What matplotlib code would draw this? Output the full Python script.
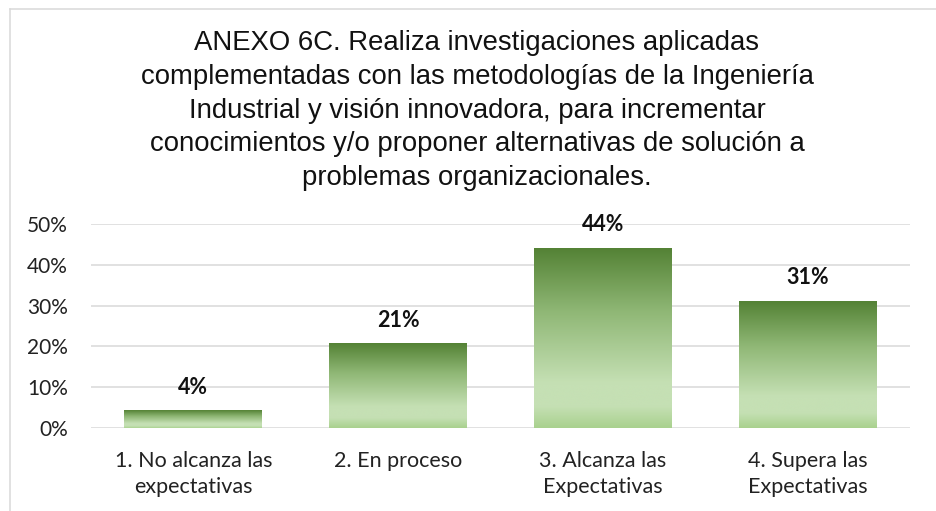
import numpy as np
import matplotlib
matplotlib.use("Agg")
import matplotlib.pyplot as plt
from matplotlib.colors import LinearSegmentedColormap
from matplotlib.lines import Line2D

categories = ["1. No alcanza las\nexpectativas", "2. En proceso",
              "3. Alcanza las\nExpectativas", "4. Supera las\nExpectativas"]
values = [0.042, 0.206, 0.441, 0.311]
yticks = [0.0, 0.1, 0.2, 0.3, 0.4, 0.5]
title = ("ANEXO 6C. Realiza investigaciones aplicadas\n"
         "complementadas con las metodologías de la Ingeniería\n"
         "Industrial y visión innovadora, para incrementar\n"
         "conocimientos y/o proponer alternativas de solución a\n"
         "problemas organizacionales.")

W, H = 936, 511
fig = plt.figure(figsize=(W / 100, H / 100), dpi=100)
fig.patch.set_facecolor("white")

# chart-area frame (left and top edges)
fig.add_artist(Line2D([9.5 / W, 9.5 / W], [0, 1 - 9.5 / H], color="#d9d9d9", lw=1.1,
                      transform=fig.transFigure))
fig.add_artist(Line2D([9.5 / W, 1], [1 - 9.5 / H, 1 - 9.5 / H], color="#d9d9d9", lw=1.1,
                      transform=fig.transFigure))

ax = fig.add_axes([91 / W, 1 - 428 / H, (910 - 91) / W, (428 - 224) / H])

grad = LinearSegmentedColormap.from_list(
    "green", [(0.0, "#a9d18e"), (0.12, "#c5e0b4"), (0.25, "#c5e0b4"),
              (0.65, "#8fb775"), (1.0, "#548235")])
ramp = np.linspace(0, 1, 256).reshape(-1, 1)

x = np.arange(len(categories))
bars = ax.bar(x, values, width=0.673, color="none", edgecolor="none", zorder=3)
for b, v in zip(bars, values):
    x0 = b.get_x()
    ax.imshow(ramp, cmap=grad, origin="lower", aspect="auto", interpolation="bicubic",
              extent=[x0, x0 + b.get_width(), 0, v], zorder=3)
    ax.annotate(f"{v * 100:.0f}%", (b.get_x() + b.get_width() / 2, v),
                xytext=(0, 17), textcoords="offset points",
                ha="center", va="center", fontsize=15.5, fontweight="bold",
                family="Lato", color="#111111", zorder=4)
ax.set_xlim(-0.5, len(categories) - 0.5)
ax.set_ylim(0, 0.5)

ax.set_yticks(yticks)
ax.set_yticklabels([f"{t * 100:.0f}%" for t in yticks], family="Lato", fontsize=15,
                   color="#222222")
ax.set_xticks(x)
ax.set_xticklabels(categories, family="Lato", fontsize=15.5, color="#222222",
                   linespacing=1.38)
ax.tick_params(axis="both", length=0)
ax.tick_params(axis="y", pad=16.5)
ax.tick_params(axis="x", pad=16.5)
ax.yaxis.grid(True, color="#d9d9d9", lw=1.1, zorder=0)
ax.set_axisbelow(True)
for s in ax.spines.values():
    s.set_visible(False)

fig.text(477 / W, 1 - 30 / H, title, ha="center", va="top", fontsize=19.8,
         family="Liberation Sans", color="#111111", linespacing=1.39)

fig.savefig("out.png", dpi=100, facecolor="white")
